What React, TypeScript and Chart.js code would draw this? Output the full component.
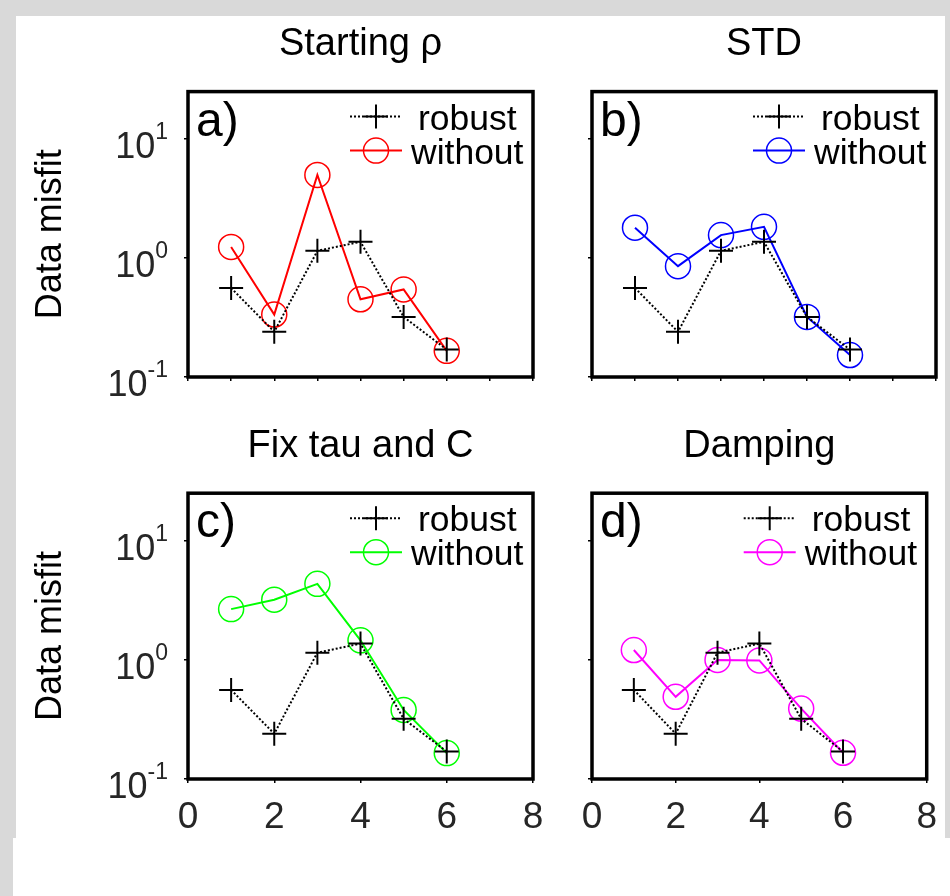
import React, { useEffect, useRef } from 'react';
import { Chart, registerables } from 'chart.js';

Chart.register(...registerables);

// ---------- data ----------
const iterations = [1, 2, 3, 4, 5, 6];
const robust = [0.56, 0.24, 1.15, 1.37, 0.32, 0.17];
const startingRho = [1.24, 0.335, 5.0, 0.45, 0.545, 0.166];
const stdMisfit = [1.8, 0.855, 1.56, 1.83, 0.32, 0.153];
const fixTauC = [2.67, 3.2, 4.35, 1.46, 0.38, 0.165];
const damping = [1.21, 0.49, 1.0, 0.99, 0.39, 0.166];

const panelTitles = ['Starting ρ', 'STD', 'Fix tau and C', 'Damping'];
const panelLetters = ['a)', 'b)', 'c)', 'd)'];
const panelColors = ['#ff0000', '#0000ff', '#00ff00', '#ff00ff'];
const panelSeries = [startingRho, stdMisfit, fixTauC, damping];
const seriesLabels = ['robust', 'without'];

const yTickValues = [0.1, 1, 10];
const yTickExponents = ['-1', '0', '1'];
const yMin = 0.1;
const yMax = 25.1;
const xMin = 0;
const xMax = 8;
const yAxisTitle = 'Data misfit';

// ---------- layout (positions / sizes only) ----------
const FAMILY = '"Liberation Sans", Arial, Helvetica, sans-serif';

type Layout = {
  left: number; top: number; w: number; h: number;
  pad: { left: number; right: number; top: number; bottom: number };
  yWidth: number; xHeight: number;
  titlePad: { top: number; bottom: number };
  showYLabels: boolean; showXLabels: boolean; xStep: number;
};

const layouts: Layout[] = [
  { left: 0, top: 0, w: 560, h: 400, pad: { left: 16, right: 27, top: 16, bottom: 13 }, yWidth: 172, xHeight: 10, titlePad: { top: 6, bottom: 24 }, showYLabels: true, showXLabels: false, xStep: 1 },
  { left: 560, top: 0, w: 390, h: 400, pad: { left: 20, right: 12, top: 16, bottom: 13 }, yWidth: 12, xHeight: 10, titlePad: { top: 6, bottom: 24 }, showYLabels: false, showXLabels: false, xStep: 1 },
  { left: 0, top: 400, w: 560, h: 496, pad: { left: 16, right: 27, top: 0, bottom: 57 }, yWidth: 172, xHeight: 60, titlePad: { top: 24, bottom: 23.6 }, showYLabels: true, showXLabels: true, xStep: 2 },
  { left: 560, top: 400, w: 390, h: 496, pad: { left: 20, right: 12, top: 0, bottom: 57 }, yWidth: 12, xHeight: 60, titlePad: { top: 24, bottom: 23.6 }, showYLabels: false, showXLabels: true, xStep: 2 },
];

// ---------- decoration plugin: frame, panel letter, legend, log tick labels ----------
const panelDecor = {
  id: 'panelDecor',
  afterDraw(chart: any, _args: any, opts: any) {
    const { ctx } = chart;
    const { left, top, right, bottom } = chart.chartArea;
    ctx.save();

    // frame
    ctx.setLineDash([]);
    ctx.lineWidth = 3.5;
    ctx.strokeStyle = '#000';
    ctx.strokeRect(left, top, right - left, bottom - top);

    // panel letter
    ctx.fillStyle = '#000';
    ctx.font = `48px ${FAMILY}`;
    ctx.textAlign = 'left';
    ctx.textBaseline = 'alphabetic';
    ctx.fillText(opts.letter, left + 8, top + 44);

    // legend
    const ds = chart.data.datasets;
    const lx0 = right - 183;
    const lx1 = right - 131;
    const mx = right - 157;
    // robust row
    let ry = top + 25;
    ctx.lineWidth = 2;
    ctx.strokeStyle = ds[0].borderColor;
    ctx.setLineDash(ds[0].borderDash);
    ctx.beginPath();
    ctx.moveTo(lx0, ry);
    ctx.lineTo(lx1, ry);
    ctx.stroke();
    ctx.setLineDash([]);
    ctx.beginPath();
    ctx.moveTo(mx - 12, ry);
    ctx.lineTo(mx + 12, ry);
    ctx.moveTo(mx, ry - 12);
    ctx.lineTo(mx, ry + 12);
    ctx.stroke();
    ctx.fillStyle = '#000';
    ctx.font = `35.5px ${FAMILY}`;
    ctx.fillText(ds[0].label, right - 115, top + 38);
    // without row
    ry = top + 59;
    ctx.strokeStyle = ds[1].borderColor;
    ctx.lineWidth = 2;
    ctx.beginPath();
    ctx.moveTo(lx0, ry);
    ctx.lineTo(lx1, ry);
    ctx.stroke();
    ctx.lineWidth = 1.5;
    ctx.beginPath();
    ctx.arc(mx, ry, 12.5, 0, Math.PI * 2);
    ctx.stroke();
    ctx.fillStyle = '#000';
    ctx.fillText(ds[1].label, right - 122, top + 72);

    // log tick labels 10^n
    if (opts.yLabels) {
      const ys = chart.scales.y;
      ctx.fillStyle = '#262626';
      ctx.textAlign = 'right';
      yTickValues.forEach((v, i) => {
        const py = ys.getPixelForValue(v);
        const ex = left - 20;
        ctx.font = `23px ${FAMILY}`;
        const ew = ctx.measureText(yTickExponents[i]).width;
        ctx.fillText(yTickExponents[i], ex, py);
        ctx.font = `36px ${FAMILY}`;
        ctx.fillText('10', ex - ew, py + 19);
      });
    }
    ctx.restore();
  },
};

function Panel({ index }: { index: number }) {
  const ref = useRef<HTMLCanvasElement>(null);
  const L = layouts[index];

  useEffect(() => {
    const color = panelColors[index];
    const values = panelSeries[index];
    const chart = new Chart(ref.current as HTMLCanvasElement, {
      type: 'line',
      data: {
        datasets: [
          {
            label: seriesLabels[0],
            data: iterations.map((x, i) => ({ x, y: robust[i] })),
            borderColor: '#000',
            borderWidth: 2,
            borderDash: [2, 2],
            pointStyle: 'cross',
            pointRadius: 12,
            pointBorderWidth: 2,
            pointBorderColor: '#000',
            pointBackgroundColor: '#000',
            fill: false,
            tension: 0,
          },
          {
            label: seriesLabels[1],
            data: iterations.map((x, i) => ({ x, y: values[i] })),
            borderColor: color,
            borderWidth: 2,
            pointStyle: 'circle',
            pointRadius: 12.5,
            pointBorderWidth: 1.5,
            pointBorderColor: color,
            pointBackgroundColor: 'rgba(0,0,0,0)',
            fill: false,
            tension: 0,
          },
        ],
      },
      options: {
        responsive: false,
        animation: false,
        devicePixelRatio: 1,
        events: [],
        layout: { padding: L.pad },
        scales: {
          x: {
            type: 'linear',
            min: xMin,
            max: xMax,
            ticks: {
              stepSize: L.xStep,
              display: L.showXLabels,
              autoSkip: false,
              maxRotation: 0,
              padding: 13,
              color: '#262626',
              font: { size: 37, family: FAMILY },
            },
            grid: { display: true, drawOnChartArea: false, drawTicks: true, tickLength: 4, color: '#000', lineWidth: 1.5 },
            border: { display: false },
            afterFit: (scale: any) => { scale.height = L.xHeight; },
          },
          y: {
            type: 'logarithmic',
            min: yMin,
            max: yMax,
            afterBuildTicks: (scale: any) => { scale.ticks = yTickValues.map((v) => ({ value: v })); },
            ticks: { display: false },
            grid: { display: true, drawOnChartArea: false, drawTicks: true, tickLength: 4, color: '#000', lineWidth: 1.5 },
            border: { display: false },
            title: {
              display: L.showYLabels,
              text: yAxisTitle,
              color: '#000',
              font: { size: 36, family: FAMILY },
              padding: { top: 13, bottom: 0 },
            },
            afterFit: (scale: any) => { scale.width = L.yWidth; },
          },
        },
        plugins: {
          legend: { display: false },
          tooltip: { enabled: false },
          title: {
            display: true,
            text: panelTitles[index],
            color: '#000',
            fullSize: false,
            font: { size: 38, family: FAMILY, weight: 'normal' },
            padding: L.titlePad,
          },
          panelDecor: { letter: panelLetters[index], yLabels: L.showYLabels },
        } as any,
      },
      plugins: [panelDecor],
    } as any);
    return () => chart.destroy();
  }, []);

  return (
    <canvas
      ref={ref}
      width={L.w}
      height={L.h}
      style={{ position: 'absolute', left: L.left, top: L.top, width: L.w, height: L.h }}
    />
  );
}

export default function App() {
  return (
    <div style={{ position: 'absolute', left: 0, top: 0, width: 950, height: 896, background: '#d9d9d9', overflow: 'hidden' }}>
      <div style={{ position: 'absolute', left: 16, top: 16, width: 929, height: 822, background: '#fff' }} />
      <div style={{ position: 'absolute', left: 13, top: 838, width: 937, height: 58, background: '#fff' }} />
      {layouts.map((_, i) => (
        <Panel key={i} index={i} />
      ))}
    </div>
  );
}
